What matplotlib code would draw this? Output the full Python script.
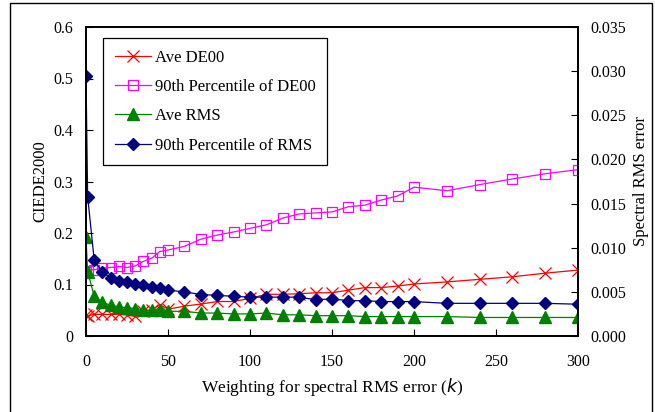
import matplotlib
matplotlib.use("Agg")
import matplotlib.pyplot as plt
from matplotlib.patches import Rectangle

# =========================
# 数据
# =========================
k_values = [0, 1, 5, 10, 15, 20, 25, 30, 35, 40, 45, 50, 60, 70, 80, 90, 100,
            110, 120, 130, 140, 150, 160, 170, 180, 190, 200, 220, 240, 260, 280, 300]

ave_de00 = [0.041, 0.039, 0.042, 0.042, 0.042, 0.042, 0.041, 0.038, 0.048, 0.050, 0.061, 0.052,
            0.058, 0.062, 0.067, 0.067, 0.073, 0.081, 0.081, 0.082, 0.084, 0.084, 0.089, 0.094,
            0.094, 0.097, 0.101, 0.105, 0.110, 0.115, 0.122, 0.128]

p90_de00 = [0.125, 0.126, 0.129, 0.132, 0.133, 0.135, 0.133, 0.136, 0.145, 0.151, 0.164, 0.167,
            0.174, 0.188, 0.196, 0.202, 0.209, 0.216, 0.229, 0.237, 0.239, 0.241, 0.251, 0.254,
            0.264, 0.272, 0.289, 0.282, 0.294, 0.305, 0.315, 0.323]

ave_rms = [0.0112, 0.0073, 0.0045, 0.0038, 0.0035, 0.0033, 0.0032, 0.0031, 0.0030, 0.0029,
           0.0029, 0.0028, 0.0028, 0.0026, 0.0026, 0.0025, 0.0025, 0.0026, 0.0024, 0.0024,
           0.0023, 0.0023, 0.0023, 0.0022, 0.0022, 0.0022, 0.0022, 0.0022, 0.0021, 0.0021,
           0.0021, 0.0021]

p90_rms = [0.0295, 0.0158, 0.0086, 0.0072, 0.0066, 0.0062, 0.0061, 0.0059, 0.0058, 0.0056,
           0.0054, 0.0052, 0.0050, 0.0047, 0.0046, 0.0045, 0.0044, 0.0044, 0.0044, 0.0044,
           0.0041, 0.0042, 0.0040, 0.0040, 0.0039, 0.0039, 0.0039, 0.0037, 0.0037, 0.0037,
           0.0037, 0.0036]

x_ticks = [0, 50, 100, 150, 200, 250, 300]
left_ticks = [0, 0.1, 0.2, 0.3, 0.4, 0.5, 0.6]
right_ticks = [0.000, 0.005, 0.010, 0.015, 0.020, 0.025, 0.030, 0.035]

# =========================
# 绘图
# =========================
plt.rcParams["font.family"] = ["Liberation Serif", "DejaVu Serif"]
plt.rcParams["font.size"] = 11.5

fig = plt.figure(figsize=(6.55, 4.12), dpi=100)
ax = fig.add_axes([86 / 655, 1 - 336 / 412, 492 / 655, 309 / 412])
ax2 = ax.twinx()

l1, = ax.plot(k_values, ave_de00, color="#FF0000", lw=0.9, marker="x", ms=9, mew=0.9,
              label="Ave DE00")
l2, = ax.plot(k_values, p90_de00, color="#FF00FF", lw=0.9, marker="s", ms=7.5, mew=0.9,
              mfc="none", label="90th Percentile of DE00")
l3, = ax2.plot(k_values, ave_rms, color="#008000", lw=0.9, marker="^", ms=8,
               label="Ave RMS")
l4, = ax2.plot(k_values, p90_rms, color="#000080", lw=0.9, marker="D", ms=6.5,
               label="90th Percentile of RMS")

ax.set_xlim(0, 300)
ax.set_ylim(0, 0.6)
ax2.set_ylim(0, 0.035)
ax.set_xticks(x_ticks)
ax.set_yticks(left_ticks)
ax.set_yticklabels([f"{v:g}" for v in left_ticks])
ax2.set_yticks(right_ticks)
ax2.set_yticklabels([f"{v:.3f}" for v in right_ticks])

for a in (ax, ax2):
    a.tick_params(direction="in", length=5, width=0.8, pad=9)
    for s in a.spines.values():
        s.set_linewidth(1.3)
ax.tick_params(axis="x", pad=13)

ax.set_xlabel("Weighting for spectral RMS error ($\\it{k}$)", labelpad=4, fontsize=12.5)
ax.set_ylabel("CIEDE2000", labelpad=4, fontsize=12)
ax2.set_ylabel("Spectral RMS error", labelpad=5, fontsize=12)

leg = ax2.legend(handles=[l1, l2, l3, l4], loc="upper left",
                 bbox_to_anchor=(103 / 655, 1 - 38 / 412), bbox_transform=fig.transFigure,
                 frameon=True, fancybox=False, edgecolor="black", framealpha=1,
                 fontsize=12, labelspacing=0.8, handlelength=2.2, handletextpad=0.2,
                 borderpad=0.7, borderaxespad=0)
leg.get_frame().set_linewidth(0.9)

# 外框
fig.patches.append(Rectangle((10 / 655, -0.05), 642 / 655, 1.05 - 3 / 412,
                             transform=fig.transFigure, fill=False,
                             edgecolor="black", lw=1.0))

plt.savefig("out.png", dpi=100)
plt.close()
